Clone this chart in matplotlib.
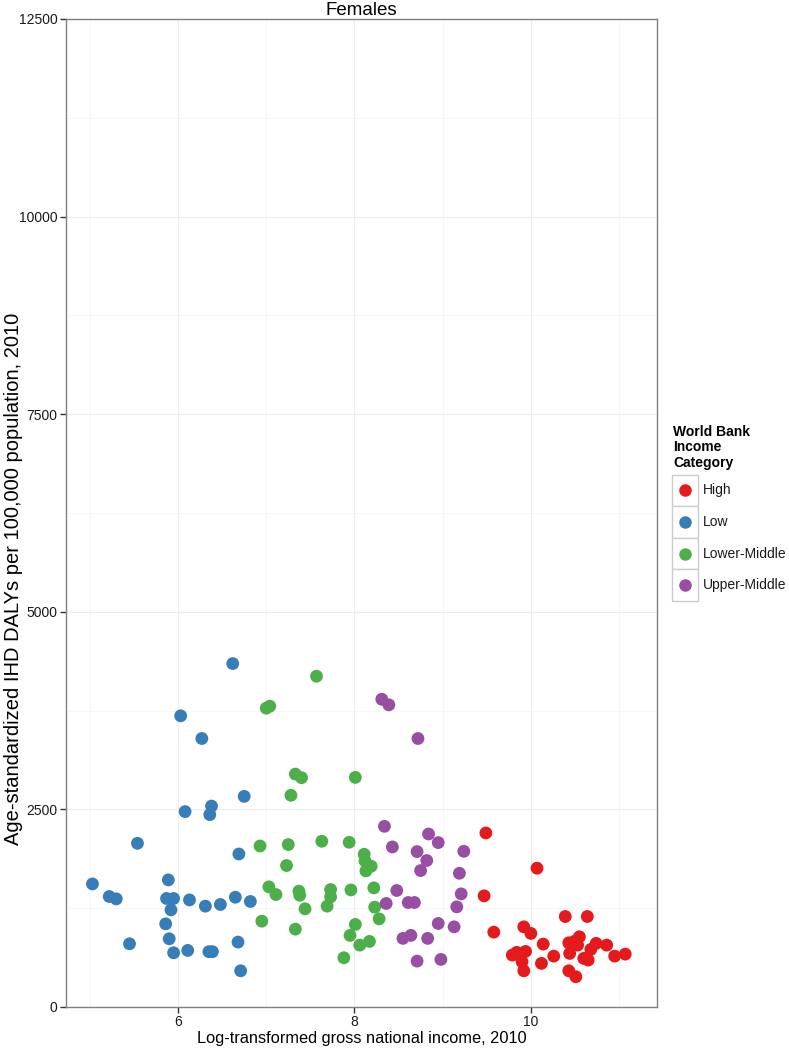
import matplotlib
matplotlib.use('Agg')
import matplotlib.pyplot as plt
from matplotlib.patches import Rectangle
from matplotlib.lines import Line2D

plt.rcParams['font.family'] = ['Liberation Sans', 'DejaVu Sans']

# ---- data (log GNI, DALYs per 100,000) ----
categories = ['High', 'Low', 'Lower-Middle', 'Upper-Middle']
colors = {'High': '#E41A1C', 'Low': '#377EB8', 'Lower-Middle': '#4DAF4A', 'Upper-Middle': '#984EA3'}

low_x = [6.62, 6.03, 6.27, 6.75, 6.08, 6.38, 6.36, 5.54, 6.69, 5.03, 5.22, 5.30, 5.89,
         5.87, 5.95, 6.13, 6.31, 6.48, 6.65, 6.82, 5.92, 5.86, 5.45, 5.90, 5.95, 6.11,
         6.35, 6.39, 6.68, 6.71]
low_y = [4345, 3684, 3397, 2665, 2472, 2542, 2434, 2071, 1936, 1557, 1398, 1368, 1608,
         1373, 1373, 1355, 1276, 1297, 1389, 1335, 1229, 1052, 800, 863, 686, 716,
         700, 700, 821, 458]

lm_x = [7.57, 7.00, 7.04, 7.33, 7.40, 8.01, 7.28, 6.93, 7.25, 7.63, 7.94, 8.11, 8.12,
        8.19, 8.13, 7.23, 7.03, 7.11, 7.37, 7.38, 7.44, 7.73, 7.73, 7.69, 7.96, 8.22,
        8.23, 8.28, 6.95, 7.33, 8.01, 7.95, 8.06, 8.17, 7.88]
lm_y = [4185, 3781, 3806, 2947, 2901, 2905, 2678, 2037, 2055, 2097, 2084, 1932, 1848,
        1781, 1722, 1790, 1520, 1423, 1465, 1414, 1242, 1486, 1393, 1276, 1481, 1507,
        1263, 1115, 1086, 985, 1044, 906, 783, 830, 623]

um_x = [8.31, 8.39, 8.72, 8.34, 8.43, 8.84, 8.95, 8.71, 9.24, 8.82, 8.75, 9.19, 8.48,
        9.21, 8.36, 8.61, 8.68, 9.16, 8.95, 9.13, 8.55, 8.64, 8.83, 8.71, 8.98]
um_y = [3894, 3823, 3397, 2286, 2025, 2189, 2080, 1966, 1970, 1853, 1726, 1692, 1474,
        1431, 1310, 1322, 1322, 1267, 1057, 1014, 868, 906, 868, 581, 602]

high_x = [9.49, 9.47, 9.58, 10.07, 9.92, 10.00, 9.79, 9.84, 9.94, 9.90, 9.92, 10.39,
          10.64, 10.14, 10.12, 10.26, 10.43, 10.50, 10.55, 10.53, 10.44, 10.60, 10.65,
          10.68, 10.74, 10.86, 10.43, 10.51, 10.95, 11.07]
high_y = [2202, 1406, 947, 1756, 1014, 931, 657, 691, 703, 572, 458, 1145,
          1145, 796, 552, 644, 812, 834, 888, 783, 678, 615, 594,
          729, 805, 783, 458, 383, 644, 669]

series = {'High': (high_x, high_y), 'Low': (low_x, low_y),
          'Lower-Middle': (lm_x, lm_y), 'Upper-Middle': (um_x, um_y)}

x_ticks = [6, 8, 10]
y_ticks = [0, 2500, 5000, 7500, 10000, 12500]

# ---- figure ----
fig = plt.figure(figsize=(7.89, 10.5), dpi=100)
ax = fig.add_axes([66 / 789, 43 / 1050, 591 / 789, 988 / 1050])

for cat in categories:
    xs, ys = series[cat]
    ax.scatter(xs, ys, s=85, color=colors[cat], edgecolors='none', zorder=3)

ax.set_xlim(4.73, 11.43)
ax.set_ylim(0, 12500)
ax.set_xticks(x_ticks)
ax.set_yticks(y_ticks)
ax.set_xticks([5, 7, 9, 11], minor=True)
ax.set_yticks([1250, 3750, 6250, 8750, 11250], minor=True)
ax.grid(True, which='major', color='#ececec', linewidth=0.8, zorder=0)
ax.grid(True, which='minor', color='#f6f6f6', linewidth=0.6, zorder=0)
ax.tick_params(which='minor', length=0)
ax.tick_params(which='major', length=4, width=1, color='#333333', labelsize=10,
               labelcolor='#1a1a1a', pad=2)
for sp in ax.spines.values():
    sp.set_color('#808080')
    sp.set_linewidth(1)

ax.set_title('Females', fontsize=13.5, pad=3)
ax.set_xlabel('Log-transformed gross national income, 2010', fontsize=11.8, labelpad=1)
ax.set_ylabel('Age-standardized IHD DALYs per 100,000 population, 2010', fontsize=14.5)
ax.yaxis.set_label_coords(-0.072, 0.433)

# ---- legend drawn ggplot-style with boxed keys ----
W, H = 789.0, 1050.0
fig.text(673 / W, 1 - 425 / H, 'World Bank\nIncome\nCategory', fontsize=10,
         fontweight='bold', va='top', ha='left', linespacing=1.12)
key_top = 474.5
key_h = 31.6
for i, cat in enumerate(categories):
    top = key_top + i * key_h
    fig.add_artist(Rectangle((672 / W, 1 - (top + key_h) / H), 26 / W, key_h / H,
                             transform=fig.transFigure, facecolor='white',
                             edgecolor='#cccccc', linewidth=1))
    yc = 1 - (top + key_h / 2) / H
    fig.add_artist(Line2D([685 / W], [yc], marker='o', markersize=9,
                          color=colors[cat], markeredgewidth=0,
                          transform=fig.transFigure))
    fig.text(703 / W, yc, cat, fontsize=10, va='center', ha='left', color='#1a1a1a')

fig.savefig('out.png', dpi=100)
